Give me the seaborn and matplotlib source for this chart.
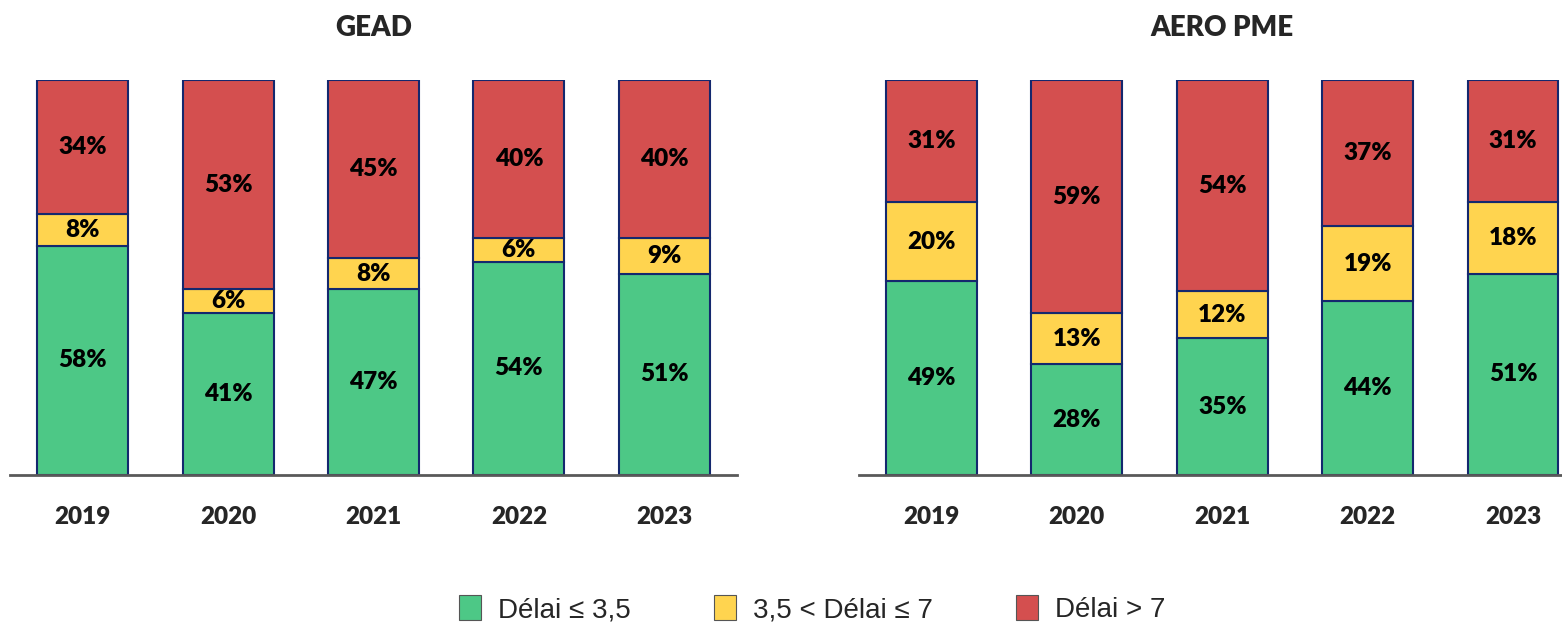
import matplotlib
matplotlib.use("Agg")
import matplotlib.pyplot as plt
import seaborn as sns
import numpy as np
from matplotlib.patches import Patch

years = ["2019", "2020", "2021", "2022", "2023"]
gead_green = [58, 41, 47, 54, 51]
gead_yellow = [8, 6, 8, 6, 9]
gead_red = [34, 53, 45, 40, 40]
aero_green = [49, 28, 35, 44, 51]
aero_yellow = [20, 13, 12, 19, 18]
aero_red = [31, 59, 54, 37, 31]
titles = ["GEAD", "AERO PME"]
labels = ["Délai ≤ 3,5", "3,5 < Délai ≤ 7", "Délai > 7"]

colors = ["#4DC886", "#FFD44F", "#D44F4F"]
edge = "#14286E"

sns.set_theme(style="white")
plt.rcParams["font.family"] = ["Lato", "DejaVu Sans"]

fig = plt.figure(figsize=(15.62, 6.28), dpi=100)
axes = [fig.add_axes([0.0064, 0.2436, 0.4654, 0.629]),
        fig.add_axes([0.5498, 0.2436, 0.4654, 0.629])]

datasets = [[gead_green, gead_yellow, gead_red], [aero_green, aero_yellow, aero_red]]

for ax, title, layers in zip(axes, titles, datasets):
    arr = np.array(layers, dtype=float)
    tot = arr.sum(axis=0)
    frac = arr / tot
    bottom = np.zeros(len(years))
    for i, (vals, col) in enumerate(zip(frac, colors)):
        sns.barplot(x=years, y=vals, bottom=bottom, color=col, width=0.625,
                    edgecolor=edge, linewidth=1.5, saturation=1, ax=ax)
        for j, v in enumerate(vals):
            ax.text(j, bottom[j] + v / 2, f"{int(arr[i][j])}%", ha="center", va="center",
                    fontsize=17.5, fontweight="heavy", color="black")
        bottom = bottom + vals
    ax.set_xlim(-0.5, 4.5)
    ax.set_ylim(0, 1.0)
    ax.set_yticks([])
    for s in ["left", "right", "top"]:
        ax.spines[s].set_visible(False)
    ax.spines["bottom"].set_color("#595959")
    ax.spines["bottom"].set_linewidth(2)
    ax.tick_params(axis="x", length=0, pad=22)
    for lab in ax.get_xticklabels():
        lab.set_fontweight("heavy")
        lab.set_fontsize(17.5)
    ax.set_xlabel("")
    ax.set_ylabel("")
    ax.set_title(title, fontsize=20, fontweight="heavy", pad=32)

handles = [Patch(facecolor=c, edgecolor="#555555", linewidth=0.8) for c in colors]
fig.legend(handles, labels, loc="center", bbox_to_anchor=(0.52, 0.03), ncol=3,
           frameon=False, prop={"family": ["Liberation Sans", "DejaVu Sans"], "size": 20},
           handlelength=0.8, handleheight=1.0, columnspacing=3.0, handletextpad=0.6)

fig.savefig("out.png", dpi=100)
